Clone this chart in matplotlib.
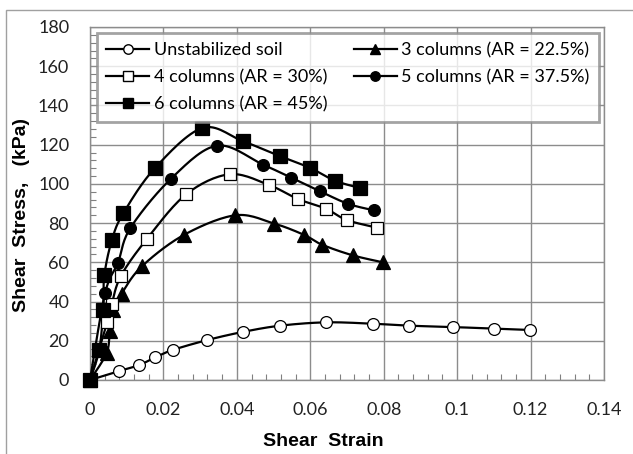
import matplotlib
matplotlib.use("Agg")
import matplotlib.pyplot as plt
import numpy as np
from matplotlib.patches import Rectangle

# data
unstab_x = [0, 0.008, 0.0134, 0.0178, 0.0225, 0.032, 0.0416, 0.0518, 0.0643, 0.077, 0.0869, 0.0988, 0.110, 0.1199]
unstab_y = [0, 4.6, 7.6, 11.6, 15.3, 20.4, 24.5, 27.7, 29.4, 28.7, 27.7, 27.0, 26.2, 25.5]

col3_x = [0, 0.0045, 0.0054, 0.0063, 0.0086, 0.0141, 0.0256, 0.0396, 0.0501, 0.0583, 0.0632, 0.0715, 0.0798]
col3_y = [0, 13.6, 25.0, 35.7, 44.0, 57.9, 74.0, 84.0, 79.8, 74.0, 69.0, 63.6, 60.0]

col4_x = [0, 0.0047, 0.0059, 0.0084, 0.0154, 0.0262, 0.038, 0.0488, 0.0566, 0.0642, 0.0699, 0.0781]
col4_y = [0, 29.5, 38.5, 53.0, 71.7, 94.7, 104.9, 99.4, 92.3, 87.4, 81.6, 77.7]

col5_x = [0, 0.0041, 0.0076, 0.011, 0.0221, 0.0346, 0.0471, 0.0548, 0.0627, 0.0702, 0.0773]
col5_y = [0, 44.2, 59.7, 77.5, 102.7, 119.5, 109.8, 103.2, 96.2, 89.9, 86.5]

col6_x = [0, 0.0025, 0.0036, 0.0039, 0.006, 0.0091, 0.0177, 0.0306, 0.0416, 0.0518, 0.06, 0.0666, 0.0735]
col6_y = [0, 15.3, 35.7, 53.3, 71.6, 85.1, 108.1, 128.5, 121.8, 114.1, 108.1, 101.7, 97.9]

labels = [
    "Unstabilized soil",
    "3 columns (AR = 22.5%)",
    "4 columns (AR = 30%)",
    "5 columns (AR = 37.5%)",
    "6 columns (AR = 45%)",
]

x_ticks = [0, 0.02, 0.04, 0.06, 0.08, 0.1, 0.12, 0.14]
x_tick_labels = ["0", "0.02", "0.04", "0.06", "0.08", "0.1", "0.12", "0.14"]
y_ticks = [0, 20, 40, 60, 80, 100, 120, 140, 160, 180]

XMAX, YMAX = 0.14, 180


def smooth(xs, ys, n=16):
    """Catmull-Rom curve through the points, like Excel's smoothed line."""
    # work in roughly screen-proportional units so both axes weigh alike
    sx, sy = 514 / XMAX, 353 / YMAX
    p = np.column_stack([np.asarray(xs) * sx, np.asarray(ys) * sy])
    p = np.vstack([p[0], p, p[-1]])
    out = []
    for i in range(1, len(p) - 2):
        p0, p1, p2, p3 = p[i - 1], p[i], p[i + 1], p[i + 2]
        t = np.linspace(0, 1, n, endpoint=False)[:, None]
        seg = 0.5 * ((2 * p1) + (-p0 + p2) * t
                     + (2 * p0 - 5 * p1 + 4 * p2 - p3) * t ** 2
                     + (-p0 + 3 * p1 - 3 * p2 + p3) * t ** 3)
        out.append(seg)
    out.append(p[-2][None, :])
    out = np.vstack(out)
    return out[:, 0] / sx, out[:, 1] / sy


plt.rcParams["font.family"] = ["Lato", "DejaVu Sans"]
BOLD = ["Liberation Sans", "DejaVu Sans"]

fig = plt.figure(figsize=(6.33, 4.54), dpi=100)
ax = fig.add_axes([90 / 633, 1 - 380 / 454, 514 / 633, 353 / 454])

# outer chart frame
fig.patches.append(Rectangle((6 / 633, -0.1), 1.2, 1.1 - 10 / 454, transform=fig.transFigure,
                             fill=False, edgecolor="#a0a0a0", lw=1.0))

series = [
    (unstab_x, unstab_y, "o", "white", 8.5),
    (col3_x, col3_y, "^", "black", 9.5),
    (col4_x, col4_y, "s", "white", 9),
    (col5_x, col5_y, "o", "black", 8.5),
    (col6_x, col6_y, "s", "black", 9.5),
]

handles = []
for (xs, ys, mk, fc, ms), lab in zip(series, labels):
    cx, cy = smooth(xs, ys)
    ax.plot(cx, cy, color="black", lw=1.6, zorder=3, clip_on=False)
    ax.plot(xs, ys, linestyle="none", marker=mk, markerfacecolor=fc,
            markeredgecolor="black", markeredgewidth=0.9, markersize=ms, zorder=4, clip_on=False)
    h, = ax.plot([], [], color="black", lw=1.6, marker=mk, markerfacecolor=fc,
                 markeredgecolor="black", markersize=ms * 0.8, label=lab)
    handles.append(h)

ax.set_xlim(0, XMAX)
ax.set_ylim(0, YMAX)
ax.set_xticks(x_ticks)
ax.set_xticklabels(x_tick_labels)
ax.set_yticks(y_ticks)
ax.set_xticks(np.arange(0, XMAX + 1e-9, 0.004), minor=True)
ax.set_yticks(np.arange(0, YMAX + 1e-9, 4), minor=True)
ax.tick_params(which="major", length=0, labelsize=13, colors="#222222")
ax.tick_params(axis="x", which="major", pad=16)
ax.tick_params(axis="y", which="major", pad=15)
ax.tick_params(which="minor", direction="in", length=4, color="#808080", width=0.8)

ax.grid(True, which="major", color="#8c8c8c", lw=1.0)
ax.set_axisbelow(True)
for s in ax.spines.values():
    s.set_color("#8c8c8c")
    s.set_linewidth(1.0)

ax.set_xlabel("Shear  Strain", fontsize=14, fontweight="bold", family=BOLD)
ax.xaxis.set_label_coords((323 - 90) / 514, -(441 - 380) / 353)
ax.xaxis.label.set_va("center")
ax.set_ylabel("Shear  Stress,   (kPa)", fontsize=14, fontweight="bold", family=BOLD)
ax.yaxis.set_label_coords(-(90 - 22) / 514, (380 - 215) / 353)
ax.yaxis.label.set_va("center")

order = [0, 2, 4, 1, 3]
leg = ax.legend([handles[i] for i in order], [labels[i] for i in order], ncol=2,
                loc="upper left", bbox_to_anchor=(7 / 514, 1 - 6 / 353),
                fontsize=13, frameon=True, fancybox=False,
                handlelength=2.4, handletextpad=0.25, borderpad=0.5, labelspacing=0.62,
                columnspacing=1.45, borderaxespad=0)
leg.get_frame().set_edgecolor("#8c8c8c")
leg.get_frame().set_linewidth(2.0)
leg.set_zorder(6)

fig.savefig("out.png", dpi=100)
